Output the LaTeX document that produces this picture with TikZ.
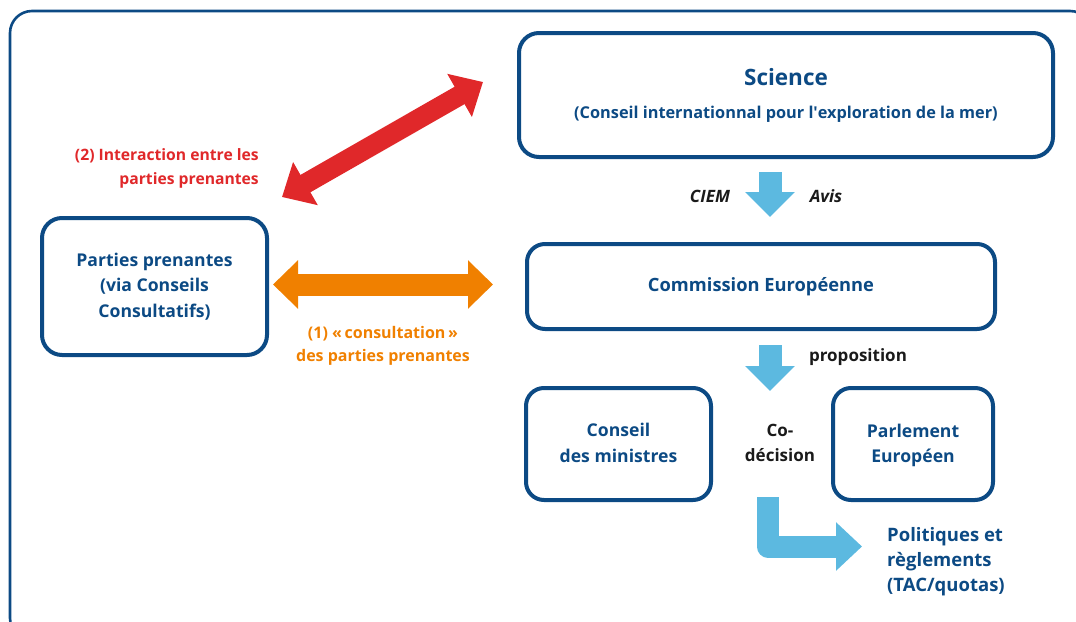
\documentclass[tikz,border=0pt]{standalone}
\usepackage{fontspec}
\setmainfont{Open Sans}
\usetikzlibrary{arrows.meta}

\definecolor{navy}{RGB}{12,74,132}
\definecolor{skyblue}{RGB}{92,185,224}
\definecolor{consult}{RGB}{240,128,0}
\definecolor{interact}{RGB}{224,40,42}
\definecolor{ink}{RGB}{26,26,26}

\tikzset{
  box/.style={draw=navy, line width=4pt, rounded corners=20pt, fill=white, inner sep=0pt},
  boxtext/.style={text=navy, font=\bfseries\fontsize{17.6}{25.5}\selectfont, align=center, inner sep=0pt},
  note/.style={font=\bfseries\fontsize{16}{23.5}\selectfont, inner sep=0pt},
  blacknote/.style={note, text=ink, font=\bfseries\fontsize{17}{25}\selectfont},
  flow/.style={draw=skyblue, line width=23pt, line join=round,
    -{Triangle[width=48pt,length=25pt]}},
  twoway/.style={line width=#1, {Triangle[width=48pt,length=27pt]}-{Triangle[width=48pt,length=27pt]}},
}

\begin{document}
\begin{tikzpicture}[x=1pt,y=-1pt]
\useasboundingbox (0,0) rectangle (1076,621);
\clip (0,0) rectangle (1076,621);

% outer frame
\draw[navy, line width=2.6pt, rounded corners=22pt] (10,11) rectangle (1092,640);

% boxes
\node[box, minimum width=534pt, minimum height=124pt] (science) at (786,95) {};
\node[text=navy, font=\bfseries\fontsize{22.5}{28}\selectfont, inner sep=0pt] (scititle) at (786,77) {Science};
\node[text=navy, font=\bfseries\fontsize{16.3}{20}\selectfont, inner sep=0pt] (scisub) at (786,114) {(Conseil internationnal pour l\textquotesingle exploration de la mer)};

\node[box, minimum width=468pt, minimum height=85pt, rounded corners=18pt] (commission) at (761,286.5) {};
\node[boxtext, font=\bfseries\fontsize{18.3}{25}\selectfont] (comtext) at (761,286.5) {Commission Européenne};

\node[box, minimum width=225pt, minimum height=137pt] (parties) at (154.5,286.5) {};
\node[boxtext] (partext) at (154.5,286.5) {Parties prenantes\\(via Conseils\\Consultatifs)};

\node[box, minimum width=185pt, minimum height=112pt, rounded corners=18pt] (conseil) at (618.5,444) {};
\node[boxtext] (context) at (618.5,443) {Conseil\\des ministres};

\node[box, minimum width=160pt, minimum height=112pt, rounded corners=18pt] (parlement) at (913,444) {};
\node[boxtext] (parltext) at (913,445.5) {Parlement\\Européen};

\node[blacknote, align=center] (codec) at (780,443) {Co-\\décision};

% labels
\node[blacknote, font=\bfseries\itshape\fontsize{17}{20}\selectfont] (ciem) at (710,196) {CIEM};
\node[blacknote, font=\bfseries\itshape\fontsize{17}{20}\selectfont] (avis) at (826,196) {Avis};
\node[blacknote] (prop) at (858,357) {proposition};
\node[note, text=interact, font=\bfseries\fontsize{15.7}{23.5}\selectfont, align=right, anchor=east] (lbl2) at (259,168.5) {(2) Interaction entre les\\parties prenantes};
\node[note, text=consult, align=center] (lbl1) at (383,346) {(1) «\,consultation\,»\\des parties prenantes};
\node[text=navy, font=\bfseries\fontsize{18.5}{25}\selectfont, align=left, anchor=west, inner sep=0pt] (policy) at (887,562) {Politiques et\\règlements\\(TAC/quotas)};

% connector ends
\coordinate (sciA) at (770,172);
\coordinate (sciB) at (770,217);
\coordinate (comA) at (770,345);
\coordinate (comB) at (770,391);
\coordinate (decA) at (768,497);
\coordinate (decB) at (862,546.5);
\coordinate (redA) at (282,197);
\coordinate (redB) at (483,82);
\coordinate (orA) at (273,284.5);
\coordinate (orB) at (493,284.5);

% flows
\draw[flow] (sciA) -- (sciB);
\draw[flow] (comA) -- (comB);
\draw[flow, line width=22pt, -{Triangle[width=47pt,length=26pt]}] (decA) |- (decB);
\draw[twoway=20pt, draw=interact, fill=interact] (redA) -- (redB);
\draw[twoway=22pt, draw=consult, fill=consult, {Triangle[width=47pt,length=25pt]}-{Triangle[width=47pt,length=25pt]}] (orA) -- (orB);
\end{tikzpicture}
\end{document}
